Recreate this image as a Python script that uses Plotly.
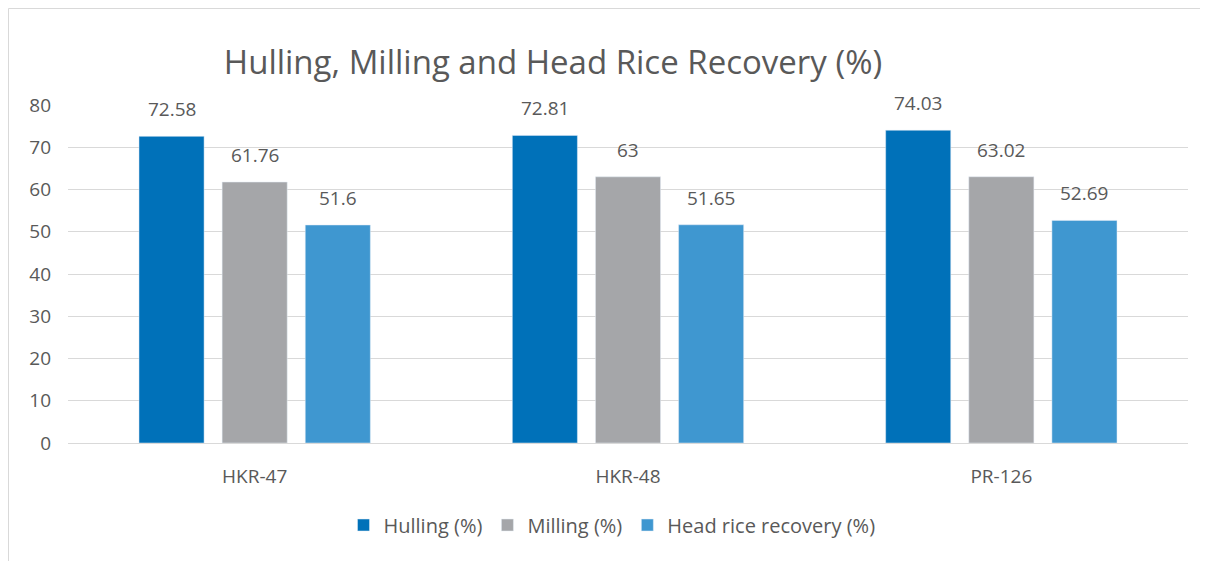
import plotly.graph_objects as go

categories = ["HKR-47", "HKR-48", "PR-126"]
hulling = [72.58, 72.81, 74.03]
milling = [61.76, 63, 63.02]
head_rice = [51.6, 51.65, 52.69]
series_names = ["Hulling (%)", "Milling (%)", "Head rice recovery (%)"]
colors = ["#0071B9", "#A5A6A9", "#3F97D0"]
tick_vals = [0, 10, 20, 30, 40, 50, 60, 70, 80]

FONT = "Open Sans"
TXT = "#595959"

# page body has an 8px margin; work in figure coordinates
OFF = 8
W, H = 1200, 553
L, R, T, B = 60, 20, 97, 118
pw, ph = W - L - R, H - T - B
BARGAP = 0.332
BARGROUPGAP = 0.217
slot = pw / len(categories) * (1 - BARGAP) / 3

fig = go.Figure()
all_vals = [hulling, milling, head_rice]
for name, vals, c in zip(series_names, all_vals, colors):
    fig.add_trace(go.Bar(
        x=categories, y=vals, name=name, marker_color=c,
    ))

annotations = []
for i, vals in enumerate(all_vals):
    for cat, v in zip(categories, vals):
        annotations.append(dict(
            x=cat, y=v, xref="x", yref="y", text=str(v), showarrow=False,
            xshift=(i - 1) * slot, yshift=27, yanchor="middle", xanchor="center",
            font=dict(size=19, color=TXT, family=FONT)))

fig.update_layout(
    width=W, height=H,
    margin=dict(l=L, r=R, t=T, b=B),
    paper_bgcolor="white", plot_bgcolor="white",
    barmode="group", bargap=BARGAP, bargroupgap=BARGROUPGAP,
    font=dict(family=FONT, color=TXT, size=19),
    title=dict(text="Hulling, Milling and Head Rice Recovery (%)",
               x=(553 - OFF) / W, xanchor="center", y=1 - (62 - OFF) / H, yanchor="middle",
               font=dict(size=33, color=TXT, family=FONT)),
    legend=dict(orientation="h", x=(612 - OFF - L) / pw, xanchor="center",
                y=(435 - (525 - OFF)) / ph, yanchor="middle",
                font=dict(size=20, color=TXT, family=FONT),
                itemwidth=30, traceorder="normal"),
    yaxis=dict(range=[0, 80], tickvals=tick_vals, showgrid=True,
               gridcolor="#D9D9D9", gridwidth=1, zeroline=True,
               zerolinecolor="#D9D9D9", zerolinewidth=1,
               tickfont=dict(size=19, color=TXT), ticklabelstandoff=16,
               showline=False),
    xaxis=dict(showline=False, tickfont=dict(size=19, color=TXT), ticks="",
               ticklabelstandoff=20),
    annotations=annotations,
    shapes=[dict(type="rect", xref="paper", yref="paper",
                 x0=(0.5 - L) / pw, x1=(W + 20 - L) / pw,
                 y0=(435 - (H + 20)) / ph, y1=(435 - 0.5) / ph,
                 line=dict(color="#D9D9D9", width=1), fillcolor="rgba(0,0,0,0)",
                 layer="below")],
)

fig.write_html("out.html")
